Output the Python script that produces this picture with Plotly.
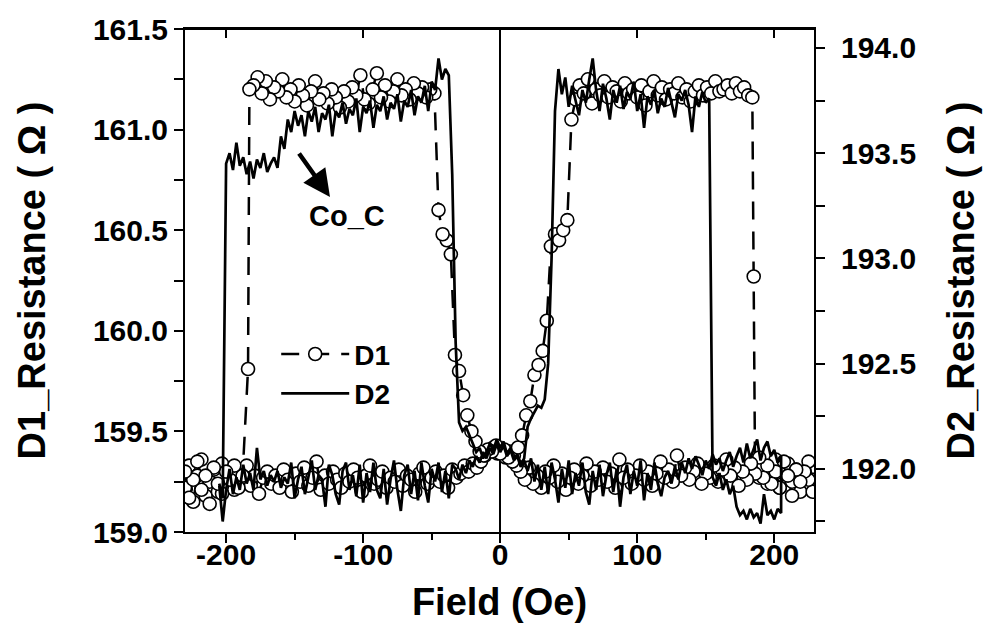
import plotly.graph_objects as go

# ---------------- data ----------------
# D1 (left axis, circles + dashed line): field sweep up (ascending x)
D1_up_x = list(range(-230, 185, 3)) + [185, 186] + list(range(189, 230, 3))
D1_up_y = [
    159.22, 159.33, 159.15, 159.28, 159.36, 159.18, 159.25, 159.31, 159.20, 159.34, 159.24,
    159.29, 159.21, 159.30, 159.26, 159.33, 159.23, 159.28, 159.19, 159.27, 159.30,
    159.24, 159.28, 159.22, 159.31, 159.26, 159.20, 159.29, 159.25, 159.32, 159.23,
    159.27, 159.35, 159.21, 159.28, 159.24, 159.30, 159.26, 159.22, 159.29, 159.25,
    159.31, 159.27, 159.20, 159.28, 159.33, 159.24, 159.26, 159.30, 159.22, 159.27,
    159.25, 159.31, 159.23, 159.28, 159.26, 159.20, 159.29, 159.32, 159.24, 159.27,
    159.30, 159.25, 159.28, 159.22, 159.31, 159.27, 159.29, 159.33, 159.30, 159.34,
    159.32,
    159.35, 159.38, 159.40, 159.42, 159.39, 159.41, 159.37, 159.40, 159.38,
    159.42, 159.48, 159.58, 159.65, 159.78, 159.83, 159.90, 160.05, 160.42, 160.48,
    160.45, 160.50, 160.55, 161.05,
    161.15, 161.22, 161.18, 161.25, 161.13, 161.20, 161.17, 161.24, 161.16, 161.21,
    161.19, 161.14, 161.23, 161.18, 161.20, 161.16, 161.22, 161.12, 161.19, 161.24,
    161.17, 161.21, 161.15, 161.20, 161.18, 161.23, 161.16, 161.20, 161.14, 161.19,
    161.22, 161.17, 161.21, 161.18, 161.24, 161.19, 161.20, 161.22, 161.18, 161.23,
    161.19, 161.21, 161.17, 161.16,
    160.27, 159.30,
    159.27, 159.33, 159.24, 159.30, 159.36, 159.22, 159.29, 159.34, 159.25, 159.31,
    159.20, 159.28, 159.35, 159.26,
]
# D1 field sweep down (listed in ascending x)
D1_down_x = list(range(-230, -185, 3)) + [-184, -183] + list(range(-180, 231, 3))
D1_down_y = [
    159.30, 159.17, 159.26, 159.35, 159.21, 159.28, 159.14, 159.32, 159.24, 159.19,
    159.30, 159.26, 159.33, 159.22, 159.28,
    159.81, 161.20,
    161.22, 161.26, 161.18, 161.24, 161.15, 161.21, 161.19, 161.25, 161.16, 161.20,
    161.14, 161.22, 161.17, 161.12, 161.19, 161.24, 161.15, 161.18, 161.13, 161.20,
    161.16, 161.11, 161.19, 161.14, 161.21, 161.17, 161.27, 161.15, 161.13, 161.20,
    161.28, 161.16, 161.22, 161.14, 161.19, 161.25, 161.17, 161.20, 161.15, 161.23,
    161.18, 161.21, 161.16, 161.20, 161.18,
    160.60, 160.48, 160.45, 160.38, 159.88, 159.80, 159.68, 159.58, 159.50, 159.45,
    159.40,
    159.38, 159.41, 159.40, 159.43, 159.39, 159.41, 159.37, 159.35, 159.33,
    159.30, 159.26, 159.32, 159.24, 159.28, 159.22, 159.30, 159.27, 159.33, 159.25,
    159.29, 159.21, 159.27, 159.31, 159.24, 159.28, 159.34, 159.23, 159.30, 159.26,
    159.32, 159.25, 159.29, 159.22, 159.36, 159.27, 159.31, 159.24, 159.28, 159.33,
    159.26, 159.30, 159.23, 159.29, 159.35, 159.27, 159.31, 159.25, 159.38, 159.28,
    159.32, 159.26, 159.30, 159.34, 159.24, 159.29, 159.27, 159.33, 159.25, 159.31,
    159.36, 159.28, 159.32, 159.23, 159.30, 159.26, 159.34, 159.29, 159.37, 159.27,
    159.33, 159.24, 159.30, 159.22, 159.35, 159.28, 159.18, 159.31, 159.25, 159.30,
    159.26, 159.20,
]

# D2 (right axis, solid line): field grid from -205 to 205 Oe in 2.5 Oe steps
D2_x_start, D2_x_step = -205.0, 2.5
D2_up_y = [
    191.92, 191.75, 191.90, 192.00, 191.88, 191.96, 191.90, 192.02, 191.93, 191.98,
    191.90, 192.10, 191.95, 191.99, 191.92, 191.97, 191.94, 191.99, 191.91, 191.96,
    191.93, 192.03, 191.86, 191.95, 192.01, 191.88, 191.96, 192.04, 191.90, 191.97,
    191.95, 191.82, 192.02, 191.97, 191.88, 191.83, 191.99, 192.03, 191.90, 191.97,
    191.87, 192.02, 191.84, 191.98, 191.89, 192.03, 191.90, 191.86, 192.00, 191.83,
    191.95, 192.04, 191.90, 191.80, 191.97, 192.02, 191.88, 191.99, 191.85, 192.03,
    191.92, 191.84, 192.00, 191.94, 192.03, 191.89, 191.99, 191.86, 192.02, 192.00,
    191.95, 192.02, 191.98, 192.04, 192.01, 192.06, 192.03, 192.08, 192.05, 192.10,
    192.07, 192.12, 192.08, 192.11, 192.06, 192.09, 192.04, 192.07, 192.02, 192.05,
    192.20, 192.24, 192.27, 192.30, 192.29, 192.33, 192.50, 193.00, 193.70, 193.90,
    193.78, 193.86, 193.72, 193.82, 193.75, 193.68, 193.80, 193.74, 193.85, 193.95,
    193.80, 193.70, 193.83, 193.76, 193.66, 193.80, 193.74, 193.82, 193.71, 193.79,
    193.76, 193.84, 193.70, 193.78, 193.62, 193.77, 193.73, 193.80, 193.69, 193.76,
    193.72, 193.81, 193.74, 193.67, 193.78, 193.75, 193.80, 193.73, 193.60, 193.77,
    193.72, 193.79, 193.74, 193.76, 191.96, 191.92, 191.98, 191.90, 191.95, 191.88,
    191.92, 191.82, 191.78, 191.80, 191.76, 191.81, 191.77, 191.79, 191.74, 191.88,
    191.78, 191.80, 191.76, 191.81, 191.79,
]
D2_down_y = [
    191.93, 191.86, 193.45, 193.50, 193.42, 193.55, 193.44, 193.48, 193.40, 193.46,
    193.38, 193.47, 193.43, 193.50, 193.41, 193.45, 193.48, 193.43, 193.58, 193.52,
    193.66, 193.60, 193.70, 193.63, 193.68, 193.58, 193.70, 193.65, 193.72, 193.60,
    193.69, 193.66, 193.73, 193.58, 193.70, 193.67, 193.74, 193.64, 193.71, 193.68,
    193.76, 193.60, 193.72, 193.69, 193.75, 193.62, 193.73, 193.70, 193.77, 193.66,
    193.74, 193.71, 193.78, 193.65, 193.75, 193.72, 193.80, 193.68, 193.77, 193.74,
    193.82, 193.70, 193.84, 193.80, 193.95, 193.85, 193.90, 193.87, 193.40, 192.60,
    192.22, 192.18, 192.20, 192.16, 192.12, 192.08, 192.10, 192.05, 192.08, 192.12,
    192.09, 192.14, 192.10, 192.13, 192.07, 192.10, 192.04, 192.06, 192.01, 192.04,
    191.99, 192.05, 191.94, 192.02, 191.90, 192.01, 191.88, 192.03, 191.95, 191.84,
    192.00, 191.91, 192.04, 191.88, 191.98, 191.92, 192.03, 191.89, 191.83, 191.99,
    191.90, 192.02, 191.87, 191.97, 192.03, 191.89, 192.00, 191.82, 191.96, 192.02,
    191.88, 191.99, 191.92, 192.04, 191.85, 191.98, 191.90, 192.03, 191.93, 191.87,
    191.96, 191.99, 191.93, 192.01, 191.95, 192.03, 191.98, 192.05, 192.00, 192.06,
    192.02, 191.97, 192.04, 192.00, 192.07, 192.02, 192.05, 191.99, 192.04, 192.08,
    192.01, 192.06, 192.10, 192.03, 192.12, 192.05, 192.09, 192.14, 192.04, 192.10,
    192.13, 192.06, 192.09, 192.03, 192.06,
]

x_ticks = [-200, -100, 0, 100, 200]
x_tick_text = ["-200", "-100", "0", "100", "200"]
y1_ticks = [159.0, 159.5, 160.0, 160.5, 161.0, 161.5]
y2_ticks = [192.0, 192.5, 193.0, 193.5, 194.0]

assert len(D1_up_x) == len(D1_up_y), (len(D1_up_x), len(D1_up_y))
assert len(D1_down_x) == len(D1_down_y), (len(D1_down_x), len(D1_down_y))
assert len(D2_up_y) == len(D2_down_y), (len(D2_up_y), len(D2_down_y))

# full hysteresis loops: up sweep, then down sweep (reversed back to descending field)
D1_x = D1_up_x + D1_down_x[::-1]
D1_y = D1_up_y + D1_down_y[::-1]
D2_grid = [D2_x_start + D2_x_step * i for i in range(len(D2_up_y))]
D2_x = D2_grid + D2_grid[::-1]
D2_y = D2_up_y + D2_down_y[::-1]

FONT = "Arial, Liberation Sans, Helvetica, sans-serif"
X_RANGE = [-230, 229]

fig = go.Figure()
fig.add_trace(go.Scatter(
    x=D1_x, y=D1_y, name="D1", mode="lines+markers",
    line=dict(color="black", width=2.5, dash="18px,12px"),
    marker=dict(symbol="circle", size=13, color="white",
                line=dict(color="black", width=1.6)),
    xaxis="x", yaxis="y",
))
fig.add_trace(go.Scatter(
    x=D2_x, y=D2_y, name="D2", mode="lines",
    line=dict(color="black", width=2.7),
    xaxis="x2", yaxis="y2",
))

tickfont = dict(family=FONT, size=30, color="black", weight="bold")
titlefont = dict(family=FONT, size=38, color="black", weight="bold")

fig.update_layout(
    width=989, height=631,
    margin=dict(l=185, r=175, t=23, b=99),
    paper_bgcolor="white", plot_bgcolor="white",
    showlegend=True,
    legend=dict(x=0.145, y=0.403, xanchor="left", yanchor="top",
                bgcolor="rgba(0,0,0,0)", borderwidth=0,
                font=dict(family=FONT, size=28, color="black", weight="bold"),
                itemwidth=68, tracegroupgap=0),
    xaxis=dict(
        range=X_RANGE, tickvals=x_ticks, ticktext=x_tick_text,
        ticks="outside", ticklen=9, tickwidth=2,
        tickcolor="black", showline=True, linecolor="black", linewidth=2,
        showgrid=False, zeroline=True, zerolinecolor="black", zerolinewidth=1.5,
        tickfont=tickfont, ticklabelstandoff=-14,
        minor=dict(dtick=50, ticks="outside", ticklen=6, tickwidth=1.5, tickcolor="black"),
        title=dict(text="Field (Oe)", font=titlefont, standoff=18),
    ),
    xaxis2=dict(
        range=X_RANGE, overlaying="x", side="top", anchor="y2",
        tickvals=x_ticks, ticks="inside", ticklen=9, tickwidth=2, tickcolor="black",
        showticklabels=False, showline=True, linecolor="black", linewidth=2,
        showgrid=False, zeroline=False,
    ),
    yaxis=dict(
        range=[159.0, 161.5], tickvals=y1_ticks, tickformat=".1f",
        ticks="outside", ticklen=9, tickwidth=2, tickcolor="black",
        showline=True, linecolor="black", linewidth=2, showgrid=False, zeroline=False,
        tickfont=tickfont,
        minor=dict(dtick=0.25, ticks="outside", ticklen=9, tickwidth=1.5, tickcolor="black"),
        title=dict(text="D1_Resistance ( Ω )", font=titlefont, standoff=36),
    ),
    yaxis2=dict(
        range=[191.70, 194.09], tickvals=y2_ticks, tickformat=".1f",
        overlaying="y", side="right", anchor="x2",
        ticks="outside", ticklen=9, tickwidth=2, tickcolor="black",
        showline=True, linecolor="black", linewidth=2, showgrid=False, zeroline=False,
        tickfont=tickfont, ticklabelstandoff=10,
        minor=dict(tick0=191.75, dtick=0.5, ticks="outside", ticklen=9, tickwidth=1.5,
                   tickcolor="black"),
        title=dict(text="D2_Resistance ( Ω )", font=titlefont, standoff=32),
    ),
    shapes=[
        # top frame line of the plot box
        dict(type="line", xref="paper", yref="paper", x0=0, x1=1, y0=1, y1=1,
             line=dict(color="black", width=2), layer="above"),
    ],
    annotations=[
        dict(x=-124.2, y=160.665, xref="x", yref="y", text="", showarrow=True,
             ax=-32, ay=-45, arrowhead=2, arrowsize=1.2, arrowwidth=4.5,
             arrowcolor="black"),
        dict(x=-111.8, y=160.572, xref="x", yref="y", text="Co_C", showarrow=False,
             font=dict(family=FONT, size=29, color="black", weight="bold")),
    ],
)

fig.write_html("out.html")
